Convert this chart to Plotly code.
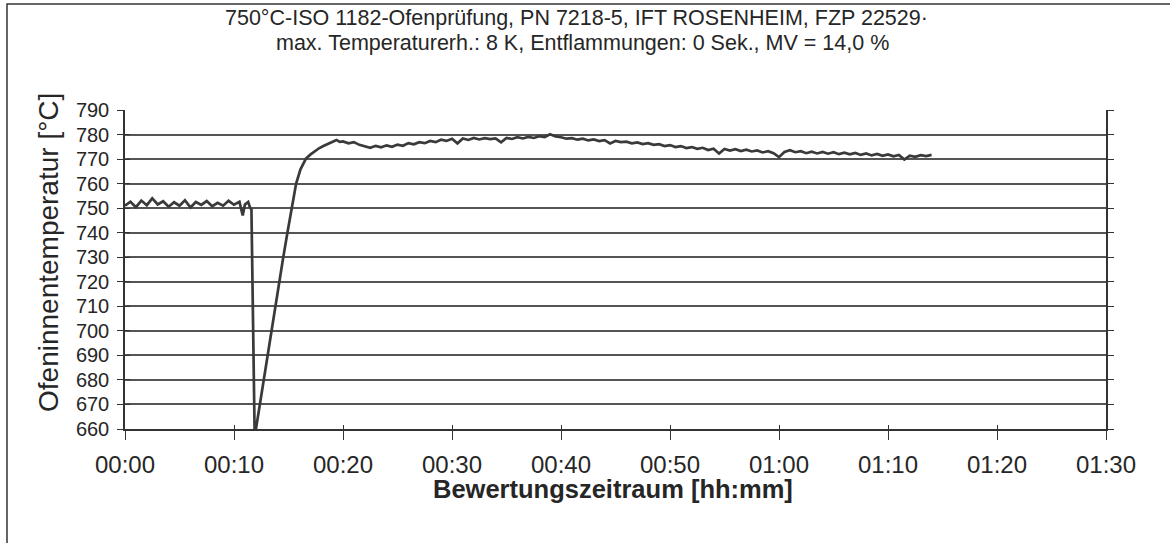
import plotly.graph_objects as go

# ---- data (minutes since start, furnace temperature in °C) ----
time_min = [
    0.0, 0.5, 1.0, 1.5, 2.0, 2.5, 3.0, 3.5, 4.0, 4.5, 5.0, 5.5, 6.0, 6.5, 7.0, 7.5,
    8.0, 8.5, 9.0, 9.5, 10.0, 10.5, 10.8, 11.0, 11.3, 11.45, 11.6, 11.9, 12.05,
    13.0, 14.0, 14.5, 14.9, 15.3, 15.7, 16.1, 16.6, 17.0, 17.4, 17.8, 18.2, 18.6,
    19.0, 19.4, 19.7,
    20.0, 20.5, 21.0, 21.5, 22.0, 22.5, 23.0, 23.5, 24.0, 24.5, 25.0, 25.5, 26.0,
    26.5, 27.0, 27.5, 28.0, 28.5, 29.0, 29.5, 30.0, 30.5, 31.0, 31.5, 32.0, 32.5,
    33.0, 33.5, 34.0, 34.5, 35.0, 35.5, 36.0, 36.5, 37.0, 37.5, 38.0, 38.5, 39.0,
    39.5, 40.0, 40.5, 41.0, 41.5, 42.0, 42.5, 43.0, 43.5, 44.0, 44.5, 45.0, 45.5,
    46.0, 46.5, 47.0, 47.5, 48.0, 48.5, 49.0, 49.5, 50.0, 50.5, 51.0, 51.5, 52.0,
    52.5, 53.0, 53.5, 54.0, 54.5, 55.0, 55.5, 56.0, 56.5, 57.0, 57.5, 58.0, 58.5,
    59.0, 59.5, 60.0, 60.5, 61.0, 61.5, 62.0, 62.5, 63.0, 63.5, 64.0, 64.5, 65.0,
    65.5, 66.0, 66.5, 67.0, 67.5, 68.0, 68.5, 69.0, 69.5, 70.0, 70.5, 71.0, 71.5,
    72.0, 72.5, 73.0, 73.5, 74.0,
]
temperature = [
    751.0, 752.6, 750.4, 753.1, 751.2, 754.0, 751.5, 752.8, 750.6, 752.4, 751.0,
    753.2, 750.3, 752.5, 751.3, 752.9, 750.8, 752.2, 751.0, 753.0, 751.4, 752.6,
    747.0, 751.5, 752.5, 750.5, 749.5, 656.0, 661.0,
    688.0, 716.0, 729.5, 740.0, 750.5, 760.0, 765.8, 770.2, 771.8, 773.1, 774.4,
    775.3, 776.2, 776.9, 777.8, 777.0,
    777.2, 776.4, 776.9, 775.8, 775.3, 774.6, 775.4, 774.8, 775.6, 775.0, 775.9,
    775.4, 776.5, 776.0, 776.9, 776.5, 777.4, 776.9, 777.9, 777.4, 778.3, 776.4,
    778.4, 777.8, 778.6, 778.0, 778.5, 778.1, 778.4, 776.8, 778.6, 778.2, 778.9,
    778.4, 779.0, 778.6, 779.3, 779.0, 780.1, 779.2, 778.9, 778.3, 778.5, 777.9,
    778.3, 777.6, 778.0, 777.3, 777.7, 776.4, 777.4, 776.9, 777.1, 776.4, 776.8,
    776.1, 776.5, 775.8, 776.1, 775.3, 775.7, 774.9, 775.3, 774.5, 774.9, 774.2,
    774.6, 773.7, 774.2, 772.3, 774.1, 773.5, 774.0, 773.3, 773.8, 773.1, 773.5,
    772.7, 773.2, 772.4, 770.8, 772.9, 773.6, 772.8, 773.2, 772.4, 773.0, 772.3,
    772.9, 772.2, 772.8, 772.0, 772.6, 771.9, 772.5, 771.7, 772.3, 771.5, 772.1,
    771.3, 771.9, 771.1, 771.7, 769.8, 771.4, 770.9, 771.6, 771.2, 771.7,
]

x_tick_vals = [0, 10, 20, 30, 40, 50, 60, 70, 80, 90]
x_tick_text = ["00:00", "00:10", "00:20", "00:30", "00:40",
               "00:50", "01:00", "01:10", "01:20", "01:30"]
y_tick_vals = list(range(660, 791, 10))

title_line1 = "750°C-ISO 1182-Ofenprüfung, PN 7218-5, IFT ROSENHEIM, FZP 22529·"
title_line2 = "max. Temperaturerh.: 8 K, Entflammungen: 0 Sek., MV = 14,0 %"
x_title = "Bewertungszeitraum [hh:mm]"
y_title = "Ofeninnentemperatur [°C]"

# ---- layout geometry (pixels) ----
W, H = 1170, 543
L, R = 125, 1106
T, B = 110, 429


def px(x):
    return (x - L) / (R - L)


def py(y):
    return (B - y) / (B - T)


FONT = "Liberation Sans, Arial, sans-serif"
INK = "#262626"
GRID = "#555555"

fig = go.Figure()
fig.add_trace(go.Scatter(
    x=time_min, y=temperature, mode="lines",
    line=dict(color="#3a3a3a", width=2.7),
    showlegend=False, hoverinfo="x+y",
))
# helper trace so that the crossing (inside) tick axes are drawn
fig.add_trace(go.Scatter(x=[None], y=[None], xaxis="x2", yaxis="y2",
                         showlegend=False, hoverinfo="skip"))

fig.update_layout(
    width=W, height=H,
    margin=dict(l=L, r=W - R, t=T, b=H - B, pad=0),
    paper_bgcolor="white", plot_bgcolor="white",
    font=dict(family=FONT, color=INK),
    xaxis=dict(
        range=[0, 90], tickmode="array", tickvals=x_tick_vals, ticktext=x_tick_text,
        showgrid=False, zeroline=False, showline=True, linecolor="#333333", linewidth=1.5,
        ticks="outside", ticklen=9, tickwidth=1.2, tickcolor="#333333",
        tickfont=dict(size=24, family=FONT, color=INK), ticklabelstandoff=4,
    ),
    yaxis=dict(
        range=[660, 790], tickmode="array", tickvals=y_tick_vals,
        showgrid=True, gridcolor=GRID, gridwidth=1.6, zeroline=False,
        showline=True, linecolor="#333333", linewidth=1.5, mirror="ticks",
        ticks="outside", ticklen=6, tickwidth=1.2, tickcolor="#333333",
        tickfont=dict(size=20, family=FONT, color=INK), ticklabelstandoff=4,
    ),
    xaxis2=dict(
        range=[0, 90], overlaying="x", anchor="y2", side="bottom",
        tickmode="array", tickvals=x_tick_vals, showticklabels=False,
        showgrid=False, zeroline=False, showline=False,
        ticks="inside", ticklen=4, tickwidth=1.2, tickcolor="#333333",
    ),
    yaxis2=dict(
        range=[660, 790], overlaying="y", anchor="x2", side="left",
        tickmode="array", tickvals=y_tick_vals, showticklabels=False,
        showgrid=False, zeroline=False, showline=False,
        ticks="inside", ticklen=5, tickwidth=1.2, tickcolor="#333333",
    ),
    shapes=[dict(type="rect", xref="paper", yref="paper",
                 x0=px(7), x1=px(1200), y0=py(600), y1=py(4),
                 line=dict(color="#333333", width=1.5), fillcolor="rgba(0,0,0,0)",
                 layer="below")],
    annotations=[
        dict(text=title_line1, xref="paper", yref="paper", x=px(576), y=py(18),
             xanchor="center", yanchor="middle", showarrow=False,
             font=dict(size=21.5, family=FONT, color=INK)),
        dict(text=title_line2, xref="paper", yref="paper", x=px(582), y=py(43),
             xanchor="center", yanchor="middle", showarrow=False,
             font=dict(size=21.5, family=FONT, color=INK)),
        dict(text=f"<b>{x_title}</b>", xref="paper", yref="paper", x=px(613), y=py(489),
             xanchor="center", yanchor="middle", showarrow=False,
             font=dict(size=25.5, family=FONT, color=INK)),
        dict(text=y_title, xref="paper", yref="paper", x=px(48), y=py(253),
             xanchor="center", yanchor="middle", showarrow=False, textangle=-90,
             font=dict(size=28, family=FONT, color=INK)),
    ],
)

fig.write_html("out.html",
               config={"displayModeBar": False},
               post_script="document.body.style.margin='0';document.body.style.overflow='hidden';")
